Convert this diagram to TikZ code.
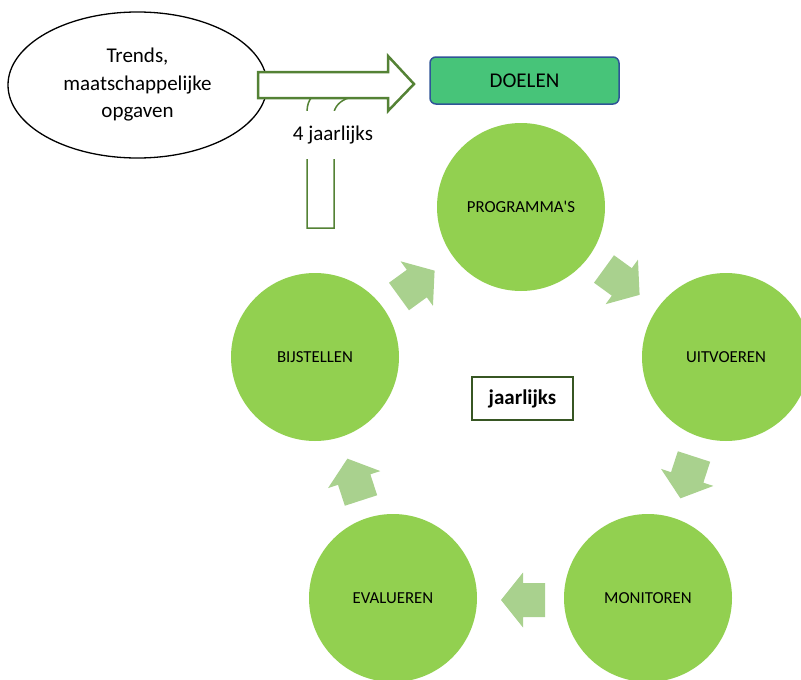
\documentclass[tikz,border=0pt]{standalone}
\usepackage{fontspec}
\setmainfont{Carlito}[Ligatures=TeXOff]
\usetikzlibrary{shapes.geometric}
\definecolor{circgreen}{HTML}{92D050}
\definecolor{arrgreen}{HTML}{A9D18E}
\definecolor{goalgreen}{HTML}{47C479}
\definecolor{goalblue}{HTML}{2F5597}
\definecolor{outgreen}{HTML}{548235}
\definecolor{boxgreen}{HTML}{375623}
\tikzset{
  phase/.style={circle, fill=circgreen, minimum size=168pt, inner sep=0pt, font=\fontsize{16.8}{20}\selectfont},
  cyc/.style={fill=arrgreen, draw=none},
}
\newcommand\cyclearrow[2]{%
  \begin{scope}[shift={#1}, rotate=#2]
    \fill[cyc] (0,-17) -- (22,-17) -- (22,-27.5) -- (44,0) -- (22,27.5) -- (22,17) -- (0,17) -- cycle;
  \end{scope}}
\begin{document}
\begin{tikzpicture}[x=1pt,y=-1pt]
\useasboundingbox (0,0) rectangle (801,680);
% ellipse
\node[ellipse, draw=black, line width=1.3pt, minimum width=259pt, minimum height=146pt, align=center,
      font=\fontsize{21}{27.5}\selectfont] (trends) at (137.5,85) {Trends,\\maatschappelijke\\opgaven};
% U-shaped return arrow
\draw[outgreen, line width=1.5pt, fill=white] (312,97) .. controls (309,100) and (307,105) .. (307,112)
   -- (307,228) -- (334,228) -- (334,112) .. controls (336,104) and (343,99) .. (352,97);
\node[fill=white, minimum width=90pt, minimum height=48pt, inner sep=0pt,
      font=\fontsize{21}{25}\selectfont] (vier) at (333,135) {4 jaarlijks};
% block arrow
\draw[outgreen, line width=2.5pt, fill=white, line join=miter]
   (258,72) -- (388,72) -- (388,56) -- (414,84) -- (388,111) -- (388,98) -- (258,98) -- cycle;
\coordinate (arrowtip) at (414,84);
% goals
\node[draw=goalblue, line width=1.5pt, fill=goalgreen, rounded corners=6pt,
      minimum width=189pt, minimum height=47pt, font=\fontsize{21}{25}\selectfont] (doelen) at (524.5,80.5) {DOELEN};
% cycle
\node[phase] (prog) at (521,207) {PROGRAMMA'S};
\node[phase] (uitv) at (726,357) {UITVOEREN};
\node[phase] (moni) at (648,598) {MONITOREN};
\node[phase] (eval) at (393,598) {EVALUEREN};
\node[phase] (bijs) at (315,357) {BIJSTELLEN};
\cyclearrow{(399,296.5)}{36}
\cyclearrow{(604,269)}{-36}
\cyclearrow{(694,456.5)}{-108}
\cyclearrow{(545,600)}{180}
\cyclearrow{(361,500.5)}{108}
\node[draw=boxgreen, line width=2pt, minimum width=101pt, minimum height=43pt,
      font=\bfseries\fontsize{21}{25}\selectfont] (jaar) at (522.5,398.5) {jaarlijks};
\end{tikzpicture}
\end{document}
